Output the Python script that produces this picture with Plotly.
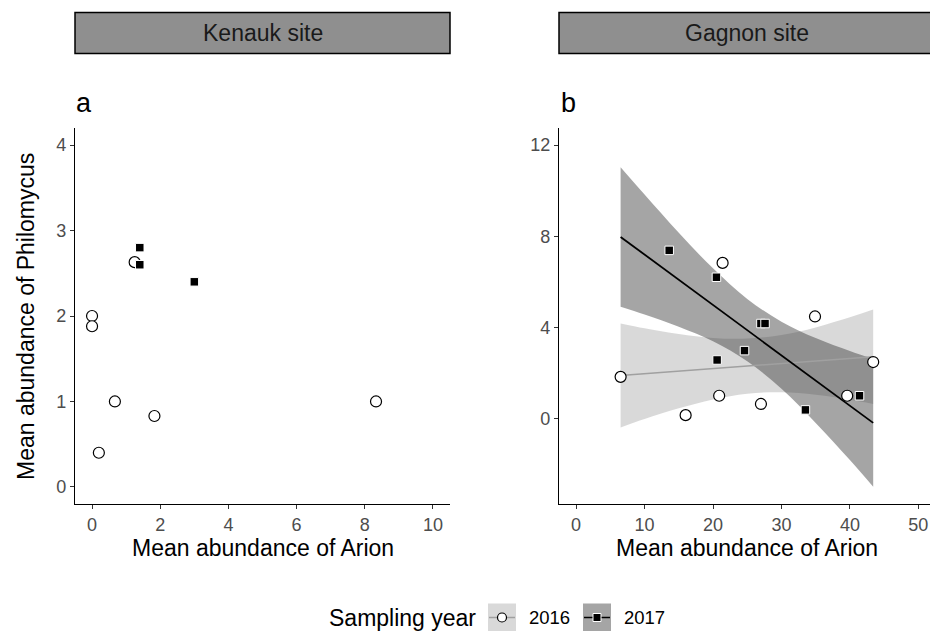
import plotly.graph_objects as go

# ---- Kenauk site (panel a) ----
kenauk_2016_x = [0.0, 0.0, 0.2, 0.67, 1.25, 1.83, 8.33]
kenauk_2016_y = [2.0, 1.88, 0.4, 1.0, 2.63, 0.83, 1.0]
kenauk_2017_x = [1.4, 1.4, 3.0]
kenauk_2017_y = [2.8, 2.6, 2.4]

# ---- Gagnon site (panel b) ----
gagnon_2016_x = [6.5, 16.0, 20.9, 21.4, 27.0, 34.9, 39.6, 43.4]
gagnon_2016_y = [1.83, 0.15, 1.0, 6.83, 0.64, 4.48, 1.0, 2.48]
gagnon_2017_x = [13.6, 20.5, 20.6, 24.6, 27.0, 27.6, 33.5, 41.4]
gagnon_2017_y = [7.38, 6.2, 2.57, 2.98, 4.17, 4.17, 0.38, 1.0]

# linear fits (endpoints) and 95% confidence ribbons for the Gagnon site
fit_x = [6.5, 43.4]
fit_2016_y = [1.89, 2.71]
fit_2017_y = [7.97, -0.19]

band_x = [6.5, 10, 15, 20, 25, 30, 35, 40, 43.4]
band_2016_lo = [-0.39, -0.02, 0.45, 0.84, 1.09, 1.15, 1.04, 0.82, 0.64]
band_2016_hi = [4.17, 3.96, 3.71, 3.54, 3.51, 3.67, 4.00, 4.44, 4.78]
band_2017_lo = [4.91, 4.57, 4.03, 3.39, 2.51, 1.31, -0.19, -1.82, -2.99]
band_2017_hi = [11.03, 9.83, 8.15, 6.59, 5.25, 4.25, 3.53, 2.96, 2.61]

site_labels = ["Kenauk site", "Gagnon site"]
panel_tags = ["a", "b"]
years = ["2016", "2017"]
x_title = "Mean abundance of Arion"
y_title = "Mean abundance of Philomycus"
legend_title = "Sampling year"

W, H = 930, 631
FONT = "Liberation Sans, Arial, sans-serif"
FILL_2016 = "rgba(150,150,150,0.36)"
FILL_2017 = "rgba(55,55,55,0.45)"
LINE_2016 = "#a0a0a0"
LINE_2017 = "#000000"


def px(x):
    return x / W


def py(y):
    return 1 - y / H


circle_marker = dict(symbol="circle", size=11, color="white",
                     line=dict(color="black", width=1.2))
square_marker = dict(symbol="square", size=8.5, color="black",
                     line=dict(color="white", width=1))

fig = go.Figure()

# ribbons
for lo, hi, fill in [(band_2016_lo, band_2016_hi, FILL_2016),
                     (band_2017_lo, band_2017_hi, FILL_2017)]:
    fig.add_trace(go.Scatter(x=band_x, y=lo, mode="lines",
                             line=dict(width=0, shape="spline"),
                             xaxis="x2", yaxis="y2", hoverinfo="skip",
                             showlegend=False))
    fig.add_trace(go.Scatter(x=band_x, y=hi, mode="lines", fill="tonexty",
                             fillcolor=fill,
                             line=dict(width=0, shape="spline"),
                             xaxis="x2", yaxis="y2", hoverinfo="skip",
                             showlegend=False))

# fitted lines
fig.add_trace(go.Scatter(x=fit_x, y=fit_2016_y, mode="lines",
                         line=dict(color=LINE_2016, width=1.5),
                         xaxis="x2", yaxis="y2", showlegend=False))
fig.add_trace(go.Scatter(x=fit_x, y=fit_2017_y, mode="lines",
                         line=dict(color=LINE_2017, width=1.8),
                         xaxis="x2", yaxis="y2", showlegend=False))

# points
fig.add_trace(go.Scatter(x=kenauk_2016_x, y=kenauk_2016_y, mode="markers",
                         marker=circle_marker, xaxis="x", yaxis="y",
                         showlegend=False))
fig.add_trace(go.Scatter(x=kenauk_2017_x, y=kenauk_2017_y, mode="markers",
                         marker=square_marker, xaxis="x", yaxis="y",
                         showlegend=False))
fig.add_trace(go.Scatter(x=gagnon_2016_x, y=gagnon_2016_y, mode="markers",
                         marker=circle_marker, xaxis="x2", yaxis="y2",
                         showlegend=False))
fig.add_trace(go.Scatter(x=gagnon_2017_x, y=gagnon_2017_y, mode="markers",
                         marker=square_marker, xaxis="x2", yaxis="y2",
                         showlegend=False))

axis_common = dict(showline=True, linecolor="black", linewidth=1.4,
                   ticks="outside", ticklen=4, tickwidth=1,
                   tickcolor="#333333", showgrid=False, zeroline=False,
                   tickfont=dict(family=FONT, size=18, color="#4D4D4D"))

y_dom = [py(504), py(128)]
fig.update_layout(
    width=W, height=H,
    margin=dict(l=0, r=0, t=0, b=0, autoexpand=False),
    paper_bgcolor="white", plot_bgcolor="white",
    showlegend=False,
    xaxis=dict(domain=[px(75), px(450)], range=[-0.5, 10.5],
               tickvals=[0, 2, 4, 6, 8, 10], anchor="y", **axis_common),
    yaxis=dict(domain=y_dom, range=[-0.2, 4.2],
               tickvals=[0, 1, 2, 3, 4], anchor="x", **axis_common),
    xaxis2=dict(domain=[px(559), 1.0], range=[-2.5, 51.7],
                tickvals=[0, 10, 20, 30, 40, 50], anchor="y2", **axis_common),
    yaxis2=dict(domain=y_dom, range=[-3.75, 12.75],
                tickvals=[0, 4, 8, 12], anchor="x2", **axis_common),
)

shapes = []
annotations = []

# facet strips
strip_spans = [(75, 450), (559, 935)]
for (x0, x1), label in zip(strip_spans, site_labels):
    shapes.append(dict(type="rect", xref="paper", yref="paper",
                       x0=px(x0), x1=px(x1), y0=py(53.5), y1=py(12.5),
                       fillcolor="#8F8F8F", line=dict(color="black", width=1.5)))
    annotations.append(dict(text=label, xref="paper", yref="paper",
                            x=px((x0 + x1) / 2), y=py(33), showarrow=False,
                            xanchor="center", yanchor="middle",
                            font=dict(family=FONT, size=23, color="#1A1A1A")))

# panel tags
for xpos, tag in zip([74, 559], panel_tags):
    annotations.append(dict(text=tag, xref="paper", yref="paper",
                            x=px(xpos), y=py(103), showarrow=False,
                            xanchor="left", yanchor="middle",
                            font=dict(family=FONT, size=27, color="black")))

# axis titles
for cx in [(75 + 450) / 2, (559 + 935) / 2]:
    annotations.append(dict(text=x_title, xref="paper", yref="paper",
                            x=px(cx), y=py(548), showarrow=False,
                            xanchor="center", yanchor="middle",
                            font=dict(family=FONT, size=23, color="black")))
annotations.append(dict(text=y_title, xref="paper", yref="paper",
                        x=px(26), y=py(317), showarrow=False, textangle=-90,
                        xanchor="center", yanchor="middle",
                        font=dict(family=FONT, size=23, color="black")))

# legend
leg_cy = 617.5
annotations.append(dict(text=legend_title, xref="paper", yref="paper",
                        x=px(478), y=py(leg_cy), showarrow=False,
                        xanchor="right", yanchor="middle",
                        font=dict(family=FONT, size=23, color="black")))
key_specs = [
    (488, FILL_2016, LINE_2016, "circle", years[0]),
    (583, FILL_2017, LINE_2017, "square", years[1]),
]
for kx, fill, lcol, sym, lab in key_specs:
    shapes.append(dict(type="rect", xref="paper", yref="paper",
                       x0=px(kx), x1=px(kx + 28), y0=py(leg_cy + 14),
                       y1=py(leg_cy - 14), fillcolor=fill, line=dict(width=0)))
    shapes.append(dict(type="line", xref="paper", yref="paper",
                       x0=px(kx + 1), x1=px(kx + 27), y0=py(leg_cy),
                       y1=py(leg_cy), line=dict(color=lcol, width=1.5)))
    cx = kx + 14
    if sym == "circle":
        shapes.append(dict(type="circle", xref="paper", yref="paper",
                           x0=px(cx - 4.5), x1=px(cx + 4.5),
                           y0=py(leg_cy + 4.5), y1=py(leg_cy - 4.5),
                           fillcolor="white", line=dict(color="black", width=1.2)))
    else:
        shapes.append(dict(type="rect", xref="paper", yref="paper",
                           x0=px(cx - 4), x1=px(cx + 4),
                           y0=py(leg_cy + 4), y1=py(leg_cy - 4),
                           fillcolor="black", line=dict(color="white", width=1)))
    annotations.append(dict(text=lab, xref="paper", yref="paper",
                            x=px(kx + 39), y=py(leg_cy), showarrow=False,
                            xanchor="left", yanchor="middle",
                            font=dict(family=FONT, size=18.5, color="black")))

fig.update_layout(shapes=shapes, annotations=annotations)
fig.write_html("out.html")
